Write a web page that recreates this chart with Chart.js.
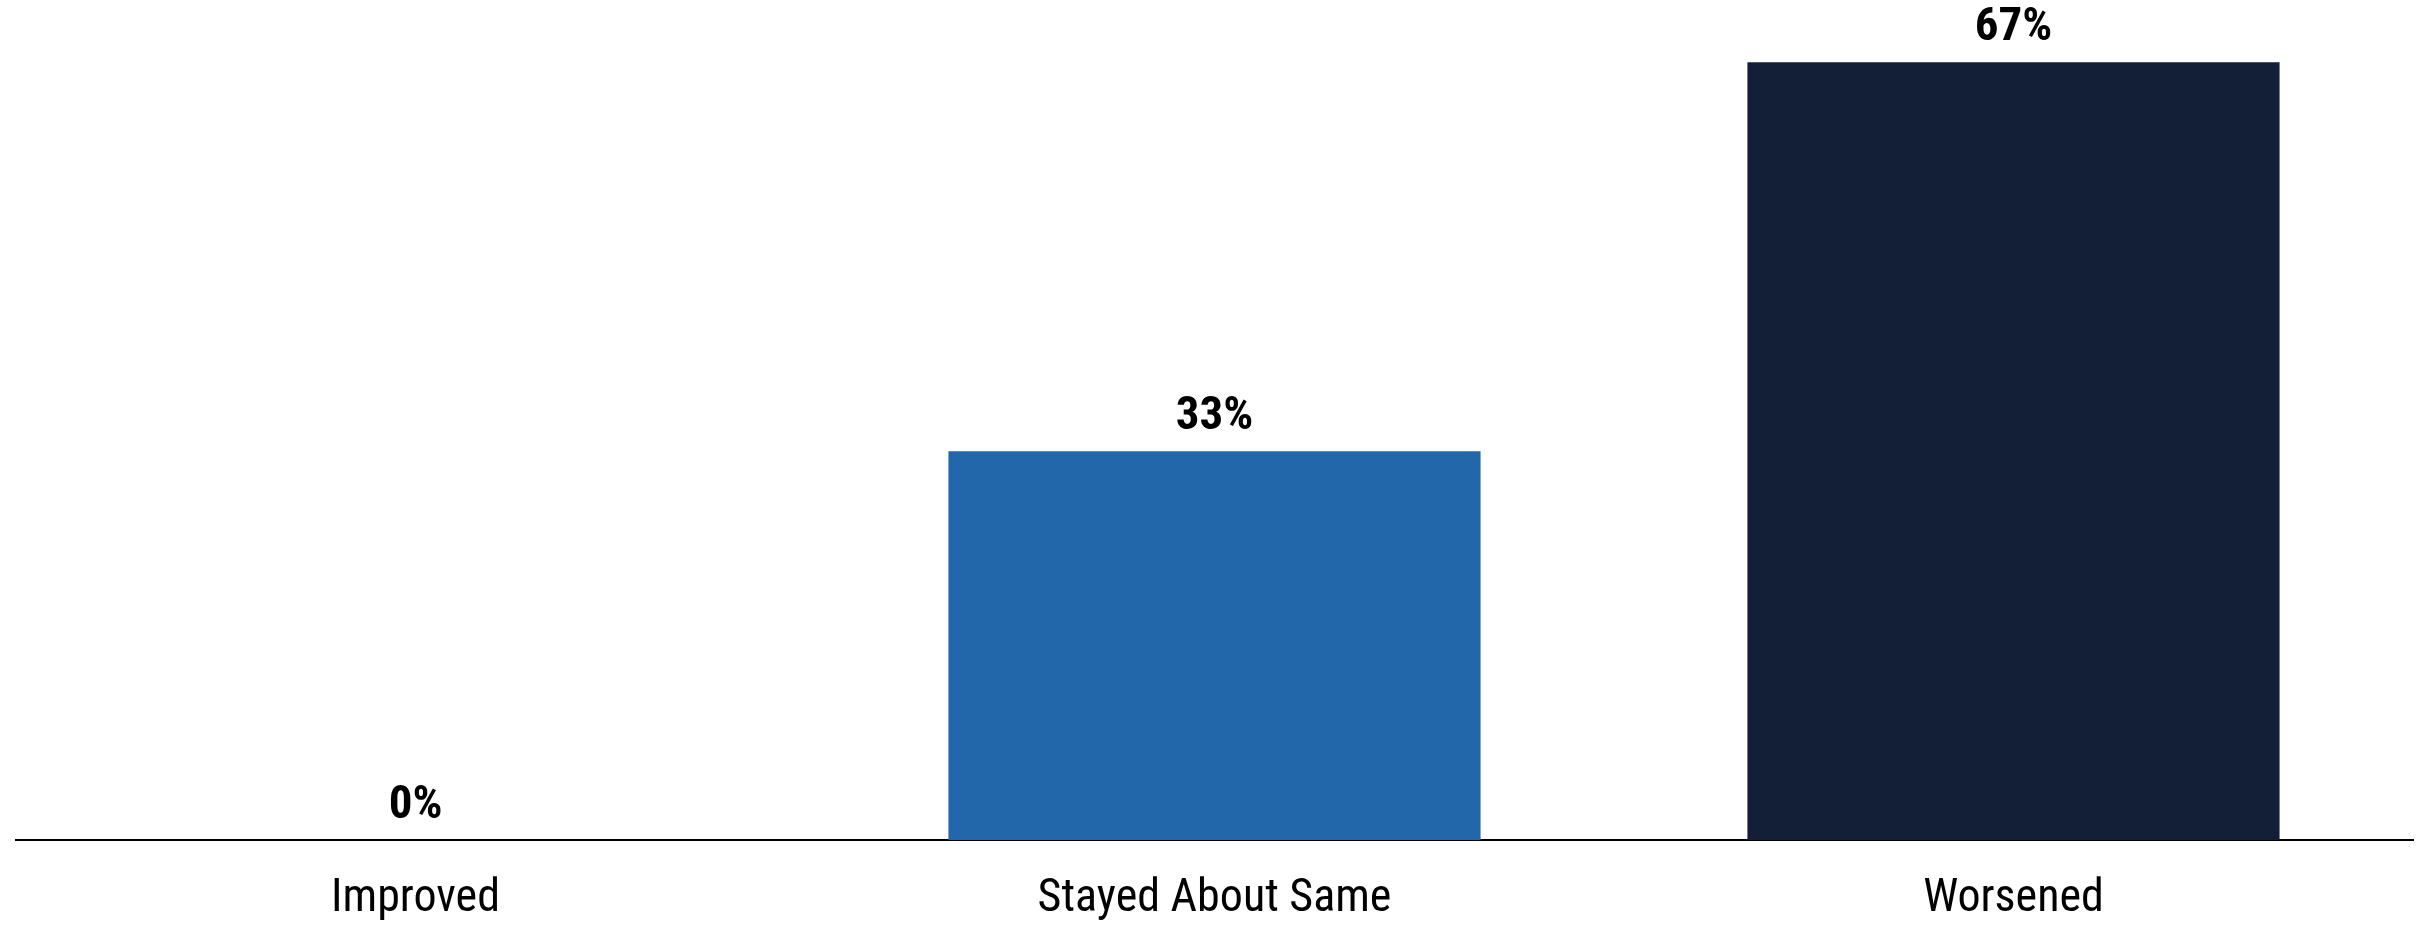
<!DOCTYPE html>
<html>
<head>
<meta charset="utf-8">
<script src="https://cdn.jsdelivr.net/npm/chart.js@4.4.1/dist/chart.umd.min.js"></script>
<style>
  html, body { margin: 0; padding: 0; background: #ffffff; }
  #wrap { width: 2433px; height: 930px; position: relative; }
</style>
</head>
<body>
<div id="wrap"><canvas id="c" width="2433" height="930"></canvas></div>
<script>
const categories = ["Improved", "Stayed About Same", "Worsened"];
const values = [0, 33.33, 66.67];
const valueLabels = ["0%", "33%", "67%"];
const barColors = ["#2267AA", "#2267AA", "#121F36"];

const FONT = "'Roboto Condensed', 'Liberation Sans', Arial, sans-serif";

const valueLabelPlugin = {
  id: 'valueLabels',
  afterDatasetsDraw(chart) {
    const ctx = chart.ctx;
    const meta = chart.getDatasetMeta(0);
    ctx.save();
    ctx.fillStyle = '#000000';
    ctx.font = "bold 47px " + FONT;
    ctx.textAlign = 'center';
    ctx.textBaseline = 'alphabetic';
    meta.data.forEach((bar, i) => {
      ctx.fillText(valueLabels[i], bar.x, bar.y - 22);
    });
    ctx.restore();
  }
};

new Chart(document.getElementById('c'), {
  type: 'bar',
  data: {
    labels: categories,
    datasets: [{
      data: values,
      backgroundColor: barColors,
      borderWidth: 0,
      categoryPercentage: 1.0,
      barPercentage: 0.666
    }]
  },
  options: {
    responsive: false,
    animation: false,
    devicePixelRatio: 1,
    layout: { padding: { left: 16, right: 20, top: 0, bottom: 0 } },
    plugins: {
      legend: { display: false },
      tooltip: { enabled: false }
    },
    scales: {
      x: {
        grid: { display: false, drawTicks: false },
        border: { display: true, color: '#000000', width: 2 },
        ticks: {
          color: '#000000',
          font: { family: FONT, size: 46, weight: 'normal' },
          padding: 32,
          maxRotation: 0,
          autoSkip: false
        },
        afterFit: (scale) => { scale.height = 90; }
      },
      y: {
        display: false,
        min: 0,
        max: 72
      }
    }
  },
  plugins: [valueLabelPlugin]
});
</script>
</body>
</html>
